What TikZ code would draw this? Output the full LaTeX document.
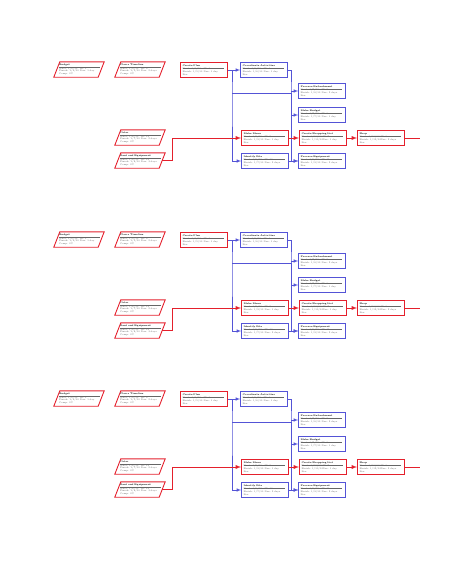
\documentclass[tikz,border=0pt]{standalone}
\usepackage{xcolor}
\usepackage{tikz}

\definecolor{critred}{RGB}{228,32,44}
\definecolor{taskblue}{RGB}{84,84,214}

\newcommand{\info}[6]{{\color{black}\textbf{#1}}\\[-1pt]\rule{41pt}{0.3pt}\\[-1pt]\makebox[21pt][l]{Start: #2}ID: #3\\\makebox[21pt][l]{Finish: #4}Dur: #5\\#6}

\tikzset{
  task/.style={draw=taskblue, line width=0.6pt, fill=white, minimum width=47pt, minimum height=15pt,
    text width=43pt, inner sep=1pt, align=left, text=black!60, font=\fontsize{2.3pt}{2.8pt}\selectfont},
  crit/.style={task, draw=critred, line width=0.9pt},
  ext/.style={minimum width=44pt, minimum height=15pt, text width=40pt, inner sep=1pt, align=left,
    text=black!60, font=\fontsize{2.3pt}{2.8pt}\selectfont},
  extline/.style={draw=critred, line width=0.9pt},
  link/.style={taskblue, line width=0.6pt, ->, >=latex},
  critlink/.style={critred, line width=0.9pt, ->, >=latex}
}

\begin{document}
\begin{tikzpicture}[x=1pt,y=-1pt]
  \useasboundingbox (0,0) rectangle (474,576);

  \foreach \i/\dy in {1/0,2/170,3/329} {
  \begin{scope}[yshift=-\dy pt]
    % external and summary inputs
    \node[ext] (budget\i) at (79,69.5) {\info{Budget}{1/4/10}{1}{1/4/10}{1 day}{Comp: 0\%}};
    \node[ext] (plan\i) at (140,69.5) {\info{Plan a Timeline}{1/4/10}{2}{1/5/10}{2 days}{Comp: 0\%}};
    \node[ext] (cater\i) at (140,137.5) {\info{Cater}{1/6/10}{12}{1/7/10}{2 days}{Comp: 0\%}};
    \node[ext] (rent\i) at (140,160.5) {\info{Rent and Equipment}{1/6/10}{13}{1/8/10}{3 days}{Comp: 0\%}};
    \foreach \n in {budget,plan,cater,rent}
      \draw[extline] ([xshift=-3pt]\n\i.south west) -- ([xshift=-3pt]\n\i.south east)
        -- ([xshift=3pt]\n\i.north east) -- ([xshift=3pt]\n\i.north west) -- cycle;

    % tasks
    \node[crit] (create\i) at (204,70) {\info{Create Plan}{1/4/10}{3}{1/5/10}{1 day}{Res:}};
    \node[task] (coord\i) at (264,70) {\info{Coordinate Activities}{1/6/10}{4}{1/6/10}{1 day}{Res:}};
    \node[task] (procmat\i) at (322,91) {\info{Procure Refreshment}{1/7/10}{5}{1/8/10}{2 days}{Res:}};
    \node[task] (makebud\i) at (322,115) {\info{Make Budget}{1/7/10}{6}{1/7/10}{1 day}{Res:}};
    \node[crit] (menu\i) at (265,138) {\info{Make Menu}{1/9/10}{9}{1/9/10}{1 day}{Res:}};
    \node[crit] (shoplist\i) at (323,138) {\info{Create Shopping List}{1/10/10}{7}{1/10/10}{1 day}{Res:}};
    \node[crit] (shop\i) at (381,138) {\info{Shop}{1/11/10}{8}{1/12/10}{2 days}{Res:}};
    \node[task] (site\i) at (265,161) {\info{Identify Site}{1/6/10}{10}{1/7/10}{2 days}{Res:}};
    \node[task] (procequip\i) at (322,161) {\info{Procure Equipment}{1/8/10}{11}{1/9/10}{2 days}{Res:}};

    \coordinate (j1\i) at (232,93);
    \coordinate (j2\i) at (291,93);
    \coordinate (out\i) at (420,138);

    % links
    \draw[link] (create\i.east) -- (coord\i.west);
    \draw[link] (create\i.east) -| (j1\i) |- (site\i.west);
    \draw[link] (j1\i) -- (j2\i) |- (makebud\i.west);
    \draw[link] (j2\i) |- (procequip\i.west);
    \draw[link] (coord\i.east) -| (j2\i) |- (procmat\i.west);
    \draw[link] (site\i.east) -- (procequip\i.west);

    % critical path
    \draw[critlink] (rent\i.east) -- ++(10,0) |- (menu\i.west);
    \draw[critlink] (menu\i.east) -- (shoplist\i.west);
    \draw[critlink] (shoplist\i.east) -- (shop\i.west);
    \draw[critred, line width=0.9pt] (shop\i.east) -- (out\i);
  \end{scope}
  }
\end{tikzpicture}
\end{document}
